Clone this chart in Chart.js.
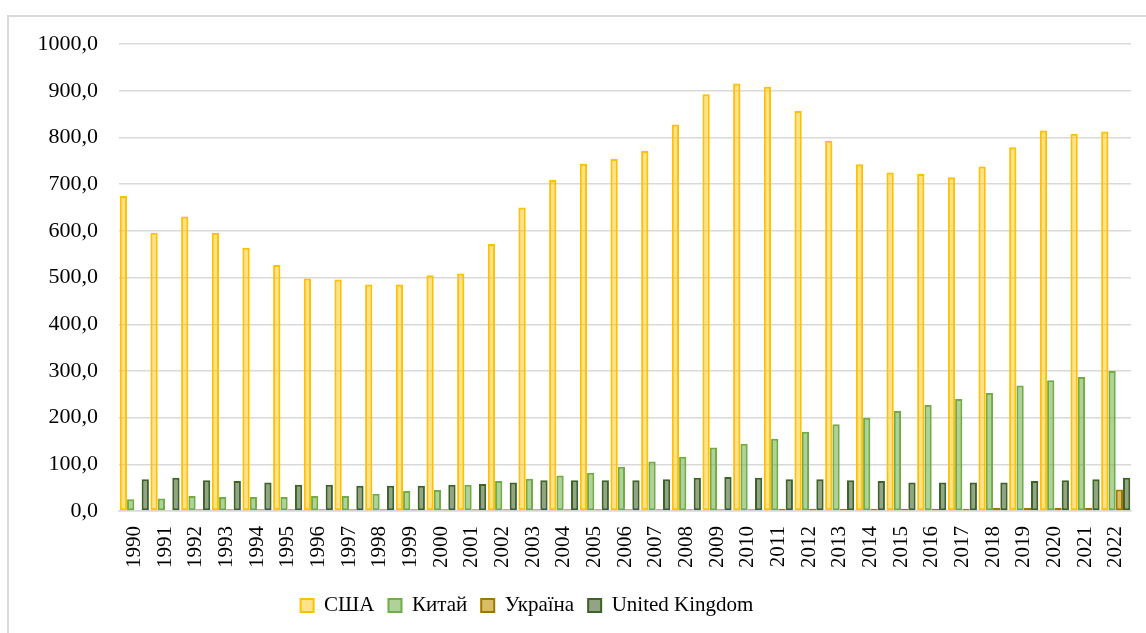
<!DOCTYPE html>
<html>
<head>
<meta charset="utf-8">
<script src="https://cdn.jsdelivr.net/npm/chart.js@4.4.1/dist/chart.umd.min.js"></script>
<style>
  html, body { margin: 0; padding: 0; background: #fff; overflow: hidden; }
  #frame {
    position: absolute; left: 7px; top: 15px;
    width: 1145px; height: 625px;
    border-left: 2px solid #d9d9d9; border-top: 2px solid #d9d9d9;
  }
  #wrap { position: absolute; left: 0; top: -7px; width: 1147px; height: 623px; }
</style>
</head>
<body>
<div id="frame"><div id="wrap"><canvas id="myChart"></canvas></div></div>
<script>
// Дані
const roky = ["1990","1991","1992","1993","1994","1995","1996","1997","1998","1999","2000","2001","2002","2003","2004","2005","2006","2007","2008","2009","2010","2011","2012","2013","2014","2015","2016","2017","2018","2019","2020","2021","2022"]
const ssha = [675,596,631,596,564,527,498,496,485,485,505,509,572,650,709,744,754,771,828,893,916,909,857,793,743,725,722,715,738,779,815,808,813]
const kytai = [25,27,32,30,30,30,32,32,37,43,45,56,64,69,76,82,95,106,116,136,144,155,170,186,200,214,227,240,253,269,280,287,300]
const ukraina = [0,0,4,4,4,4,4,4,4,4,4,4,4,4,4,4,4,4,4,4,4,5,5,5,5,5,5,5,7,7,7,7,46]
const uk = [68,71,66,64,61,56,56,54,54,54,56,58,61,66,66,66,66,68,71,73,71,68,68,66,64,61,61,61,61,64,66,68,71]
const yMax = 1000
const yStep = 100

const shryft = { family: "'Liberation Serif', 'Times New Roman', serif", size: 21 }
const shryftY = { family: "'Liberation Serif', 'Times New Roman', serif", size: 22 }

// зсув легенди вліво, як в оригіналі
const legendShift = {
    id: 'legendShift',
    afterLayout: (chart) => {
        chart.legend.left -= 53
        chart.legend.right -= 53
    }
}

const ctx = document.getElementById('myChart')
new Chart(ctx, {
    type: 'bar',
    data: {
        labels: roky,
        datasets: [
            { label: 'США', data: ssha, backgroundColor: 'rgba(255,192,0,0.45)', borderColor: '#ffc000', borderWidth: 2 },
            { label: 'Китай', data: kytai, backgroundColor: 'rgba(112,173,71,0.55)', borderColor: '#70ad47', borderWidth: 2 },
            { label: 'Україна', data: ukraina, backgroundColor: 'rgba(191,144,0,0.6)', borderColor: '#a07800', borderWidth: 2 },
            { label: 'United Kingdom', data: uk, backgroundColor: 'rgba(56,87,35,0.55)', borderColor: '#3d6326', borderWidth: 2 }
        ]
    },
    options: {
        responsive: true,
        maintainAspectRatio: false,
        animation: false,
        datasets: { bar: { categoryPercentage: 0.95, barPercentage: 1, borderSkipped: false } },
        layout: { padding: { left: 0, right: 5, top: 21, bottom: 7 } },
        scales: {
            x: {
                grid: { display: false, drawTicks: false },
                border: { display: true, color: '#d9d9d9', width: 1.5 },
                ticks: { color: '#000', font: shryft, minRotation: 90, maxRotation: 90, padding: 15, autoSkip: false },
                afterFit: (axis) => { axis.height = 70 }
            },
            y: {
                min: 0,
                max: yMax,
                grid: { color: '#d9d9d9', lineWidth: 1.5, drawTicks: false },
                border: { display: false },
                ticks: {
                    stepSize: yStep,
                    color: '#000',
                    font: shryftY,
                    padding: 21,
                    callback: (v) => v.toFixed(1).replace('.', ',')
                },
                afterFit: (axis) => { axis.width = 110 }
            }
        },
        plugins: {
            legend: {
                position: 'bottom',
                labels: { color: '#000', font: shryft, boxWidth: 13, boxHeight: 13, padding: 14 }
            },
            tooltip: { enabled: false }
        }
    },
    plugins: [legendShift]
})
</script>
</body>
</html>
